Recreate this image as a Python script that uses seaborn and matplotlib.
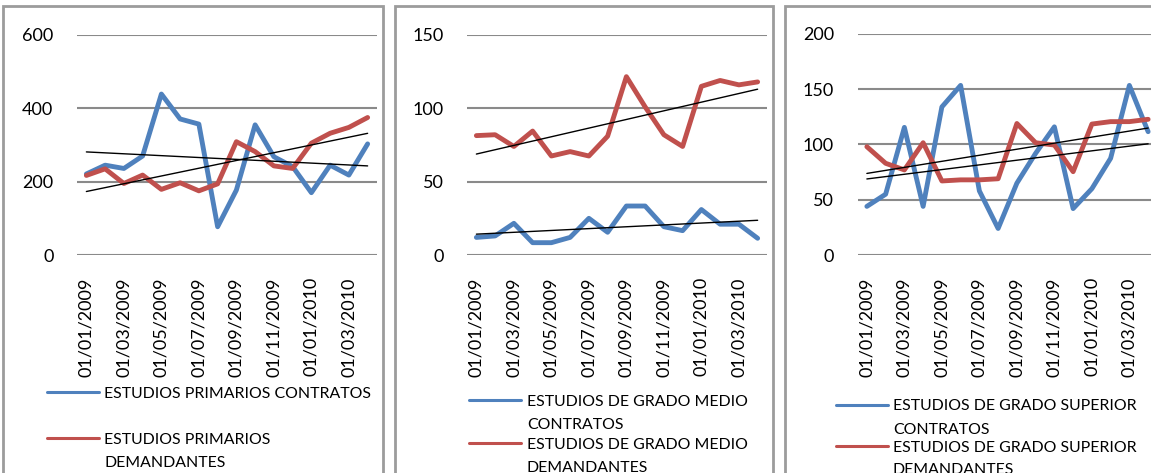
import numpy as np
import pandas as pd
import matplotlib
matplotlib.use("Agg")
import matplotlib.pyplot as plt
import seaborn as sns
from matplotlib.patches import Rectangle
from matplotlib.lines import Line2D

# ==========================================
# Data
# ==========================================

months = ["01/01/2009", "01/02/2009", "01/03/2009", "01/04/2009",
          "01/05/2009", "01/06/2009", "01/07/2009", "01/08/2009",
          "01/09/2009", "01/10/2009", "01/11/2009", "01/12/2009",
          "01/01/2010", "01/02/2010", "01/03/2010", "01/04/2010"]

primarios_contratos = [221, 245, 236, 270, 439, 371, 357, 77,
                       177, 355, 268, 241, 170, 245, 218, 303]
primarios_demandantes = [217, 235, 195, 218, 179, 197, 175, 194,
                         309, 282, 243, 236, 305, 332, 348, 375]

medio_contratos = [12, 13, 21.6, 8.4, 8.4, 12, 25, 15.5,
                   33.4, 33.4, 19.3, 16.6, 31, 21, 21, 11.4]
medio_demandantes = [81.4, 82, 74, 84.5, 67.5, 70.5, 67.5, 81,
                     121.6, 101, 82, 74, 115, 119, 116, 118]

superior_contratos = [44, 55, 115.5, 44, 134, 153.5, 58, 24,
                      65, 92, 116, 42, 60, 87.5, 153.5, 111.6]
superior_demandantes = [98, 83, 77, 101.6, 67, 68, 68, 69,
                        119, 101.6, 99.5, 75.4, 118.5, 120.7, 120.7, 122.8]

labels_primarios = ["ESTUDIOS PRIMARIOS CONTRATOS",
                    "ESTUDIOS PRIMARIOS\nDEMANDANTES"]
labels_medio = ["ESTUDIOS DE GRADO MEDIO\nCONTRATOS",
                "ESTUDIOS DE GRADO MEDIO\nDEMANDANTES"]
labels_superior = ["ESTUDIOS DE GRADO SUPERIOR\nCONTRATOS",
                   "ESTUDIOS DE GRADO SUPERIOR\nDEMANDANTES"]

y_max = [600, 150, 200]
y_step = [200, 50, 50]

# ==========================================
# Style
# ==========================================

sns.set_style("white")
plt.rcParams["font.family"] = ["Lato", "DejaVu Sans"]

BLUE = "#4F81BD"
RED = "#C0504D"
GRID = "#8a8a8a"
BORDER = "#9c9c9c"

W, H = 1151, 473
fig = plt.figure(figsize=(W / 100, H / 100), dpi=100)


def fx(x):
    return x / W


def fy(y):
    return 1 - y / H


# panel layout in pixels: border box, axes box, legend position
panels = [
    dict(box=(3, 383), ax=(77, 255, 35), leg=(47, 104, [392, 438])),
    dict(box=(395, 773), ax=(467, 255, 35), leg=(469, 527, [400, 443])),
    dict(box=(785, 1165), ax=(857.5, 255, 34), leg=(836, 893, [405, 446])),
]

series = [
    (primarios_contratos, primarios_demandantes, labels_primarios),
    (medio_contratos, medio_demandantes, labels_medio),
    (superior_contratos, superior_demandantes, labels_superior),
]

idx = np.arange(len(months))

for i, (p, (contratos, demandantes, labels)) in enumerate(zip(panels, series)):

    # border box of each chart
    bx0, bx1 = p["box"]
    fig.add_artist(Rectangle((fx(bx0), fy(490)), fx(bx1 - bx0), (490 - 6) / H,
                             transform=fig.transFigure, fill=False,
                             edgecolor=BORDER, linewidth=2))

    left, bottom, top = p["ax"]
    ax = fig.add_axes([fx(left), fy(bottom), fx(300), (bottom - top) / H])

    df = pd.DataFrame({"mes": idx, "contratos": contratos,
                       "demandantes": demandantes})

    sns.lineplot(data=df, x="mes", y="contratos", ax=ax, color=BLUE,
                 linewidth=3.5, zorder=3)
    sns.lineplot(data=df, x="mes", y="demandantes", ax=ax, color=RED,
                 linewidth=3.5, zorder=3)

    # linear trend lines
    for col in ["contratos", "demandantes"]:
        sns.regplot(data=df, x="mes", y=col, ax=ax, scatter=False, ci=None,
                    truncate=True, color="black",
                    line_kws={"linewidth": 1.0, "zorder": 4})

    ax.set_xlim(-0.5, len(months) - 0.5)
    ax.set_ylim(0, y_max[i])
    ax.set_yticks(np.arange(0, y_max[i] + 1, y_step[i]))
    ax.set_xticks(idx[::2])
    ax.set_xticklabels(months[::2], rotation=90, va="top", ha="center")
    ax.set_xlabel("")
    ax.set_ylabel("")

    ax.tick_params(axis="y", length=0, pad=17, labelsize=13, colors="black")
    ax.tick_params(axis="x", length=0, pad=16, labelsize=13, colors="black")

    ax.grid(axis="y", color=GRID, linewidth=1.5)
    ax.set_axisbelow(True)
    sns.despine(ax=ax, left=True, bottom=True)
    ax.patch.set_alpha(0)

    # legend drawn below the axis like the Excel chart
    lx, tx, ly = p["leg"]
    for color, label, yy in zip([BLUE, RED], labels, ly):
        fig.add_artist(Line2D([fx(lx), fx(lx + 52)], [fy(yy), fy(yy)],
                              transform=fig.transFigure, color=color,
                              linewidth=2.2))
        for k, line in enumerate(label.split("\n")):
            fig.text(fx(tx), fy(yy + 5.5 + k * 23), line, fontsize=11.4,
                     ha="left", va="baseline", color="black")

fig.savefig("out.png", dpi=100)
